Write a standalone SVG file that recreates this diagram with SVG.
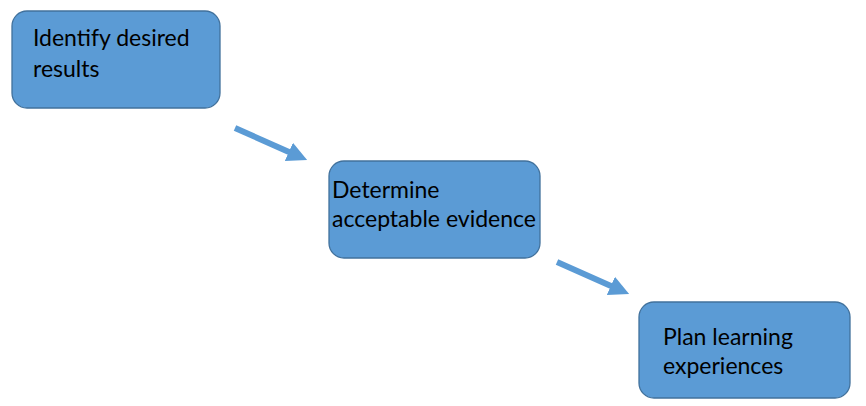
<svg xmlns="http://www.w3.org/2000/svg" width="866" height="406" viewBox="0 0 866 406">
<style>
.box{fill:#5B9BD5;stroke:#41719C;stroke-width:1.3}
.lbl{font-family:Lato,"Liberation Sans",sans-serif;font-size:23px;fill:#000}
.conn{stroke:#5B9BD5;stroke-width:6;fill:none}
</style>
<defs>
<marker id="ah" markerUnits="userSpaceOnUse" markerWidth="24" markerHeight="24" viewBox="0 0 24 24" refX="10" refY="12" orient="auto">
<path d="M0,2 L20,12 L0,22 Z" fill="#5B9BD5"/>
</marker>
</defs>
<rect width="866" height="406" fill="#fff"/>
<g id="connectors">
<line class="conn" x1="235" y1="128" x2="298" y2="156" marker-end="url(#ah)"/>
<line class="conn" x1="557" y1="262" x2="620" y2="290" marker-end="url(#ah)"/>
</g>
<g id="node1">
<rect class="box" x="12" y="11" width="208" height="97" rx="15"/>
<text class="lbl" x="33" y="46">Identify desired</text>
<text class="lbl" x="33" y="77">results</text>
</g>
<g id="node2">
<rect class="box" x="329" y="161" width="211" height="97" rx="15"/>
<text class="lbl" x="332" y="198">Determine</text>
<text class="lbl" x="332" y="227">acceptable evidence</text>
</g>
<g id="node3">
<rect class="box" x="639" y="302" width="211" height="96" rx="15"/>
<text class="lbl" x="663" y="345">Plan learning</text>
<text class="lbl" x="663" y="374">experiences</text>
</g>
</svg>
